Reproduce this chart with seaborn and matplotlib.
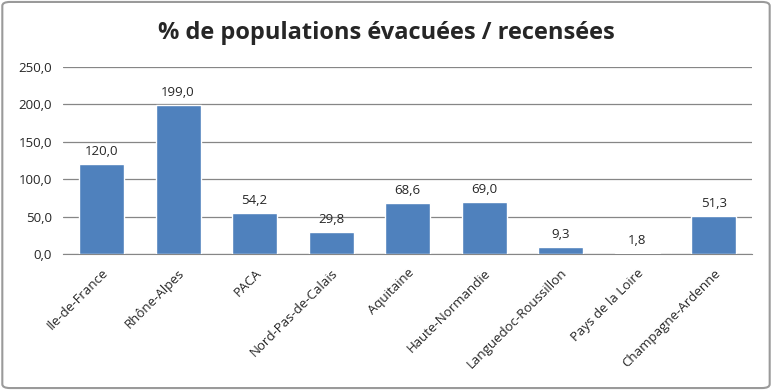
import matplotlib
matplotlib.use("Agg")
import matplotlib.pyplot as plt
import seaborn as sns
import pandas as pd
from matplotlib.patches import FancyBboxPatch

regions = ["Ile-de-France", "Rhône-Alpes", "PACA", "Nord-Pas-de-Calais", "Aquitaine",
           "Haute-Normandie", "Languedoc-Roussillon", "Pays de la Loire", "Champagne-Ardenne"]
pct = [120.0, 199.0, 54.2, 29.8, 68.6, 69.0, 9.3, 1.8, 51.3]
yticks = [0, 50, 100, 150, 200, 250]

df = pd.DataFrame({"region": regions, "pct": pct})

sns.set_style("white")
plt.rcParams["font.family"] = ["Open Sans", "DejaVu Sans"]

fig = plt.figure(figsize=(7.72, 3.90), dpi=100)
ax = fig.add_axes([0.082, 0.349, 0.892, 0.479])

sns.barplot(data=df, x="region", y="pct", color="#4F81BD", width=0.59,
            saturation=1, ax=ax, zorder=3)

ax.set_ylim(0, 250)
ax.set_yticks(yticks)
ax.set_yticklabels([f"{v:.1f}".replace(".", ",") for v in yticks], fontsize=9.5)
ax.yaxis.grid(True, color="#868686", linewidth=0.9, zorder=0)
ax.tick_params(axis="y", length=0, pad=8)
ax.tick_params(axis="x", length=0, pad=9)
for s in ["top", "right", "left"]:
    ax.spines[s].set_visible(False)
ax.spines["bottom"].set_color("#868686")
ax.spines["bottom"].set_zorder(2)
ax.set_xlabel("")
ax.set_ylabel("")
ax.set_xlim(-0.5, len(regions) - 0.5)

for lbl in ax.get_xticklabels():
    lbl.set_rotation(45)
    lbl.set_ha("right")
    lbl.set_rotation_mode("anchor")
    lbl.set_fontsize(9.5)

for i, v in enumerate(pct):
    ax.text(i, v + 8, f"{v:.1f}".replace(".", ","), ha="center", va="bottom", fontsize=9.5)

fig.text(0.5, 0.915, "% de populations évacuées / recensées", ha="center", va="center",
         fontsize=17, fontweight="bold")

border = FancyBboxPatch((0.003, 0.005), 0.994, 0.99, boxstyle="round,pad=0,rounding_size=0.01",
                        transform=fig.transFigure, fill=False, edgecolor="#9a9a9a", linewidth=1.5)
fig.patches.append(border)

fig.savefig("out.png", dpi=100)
